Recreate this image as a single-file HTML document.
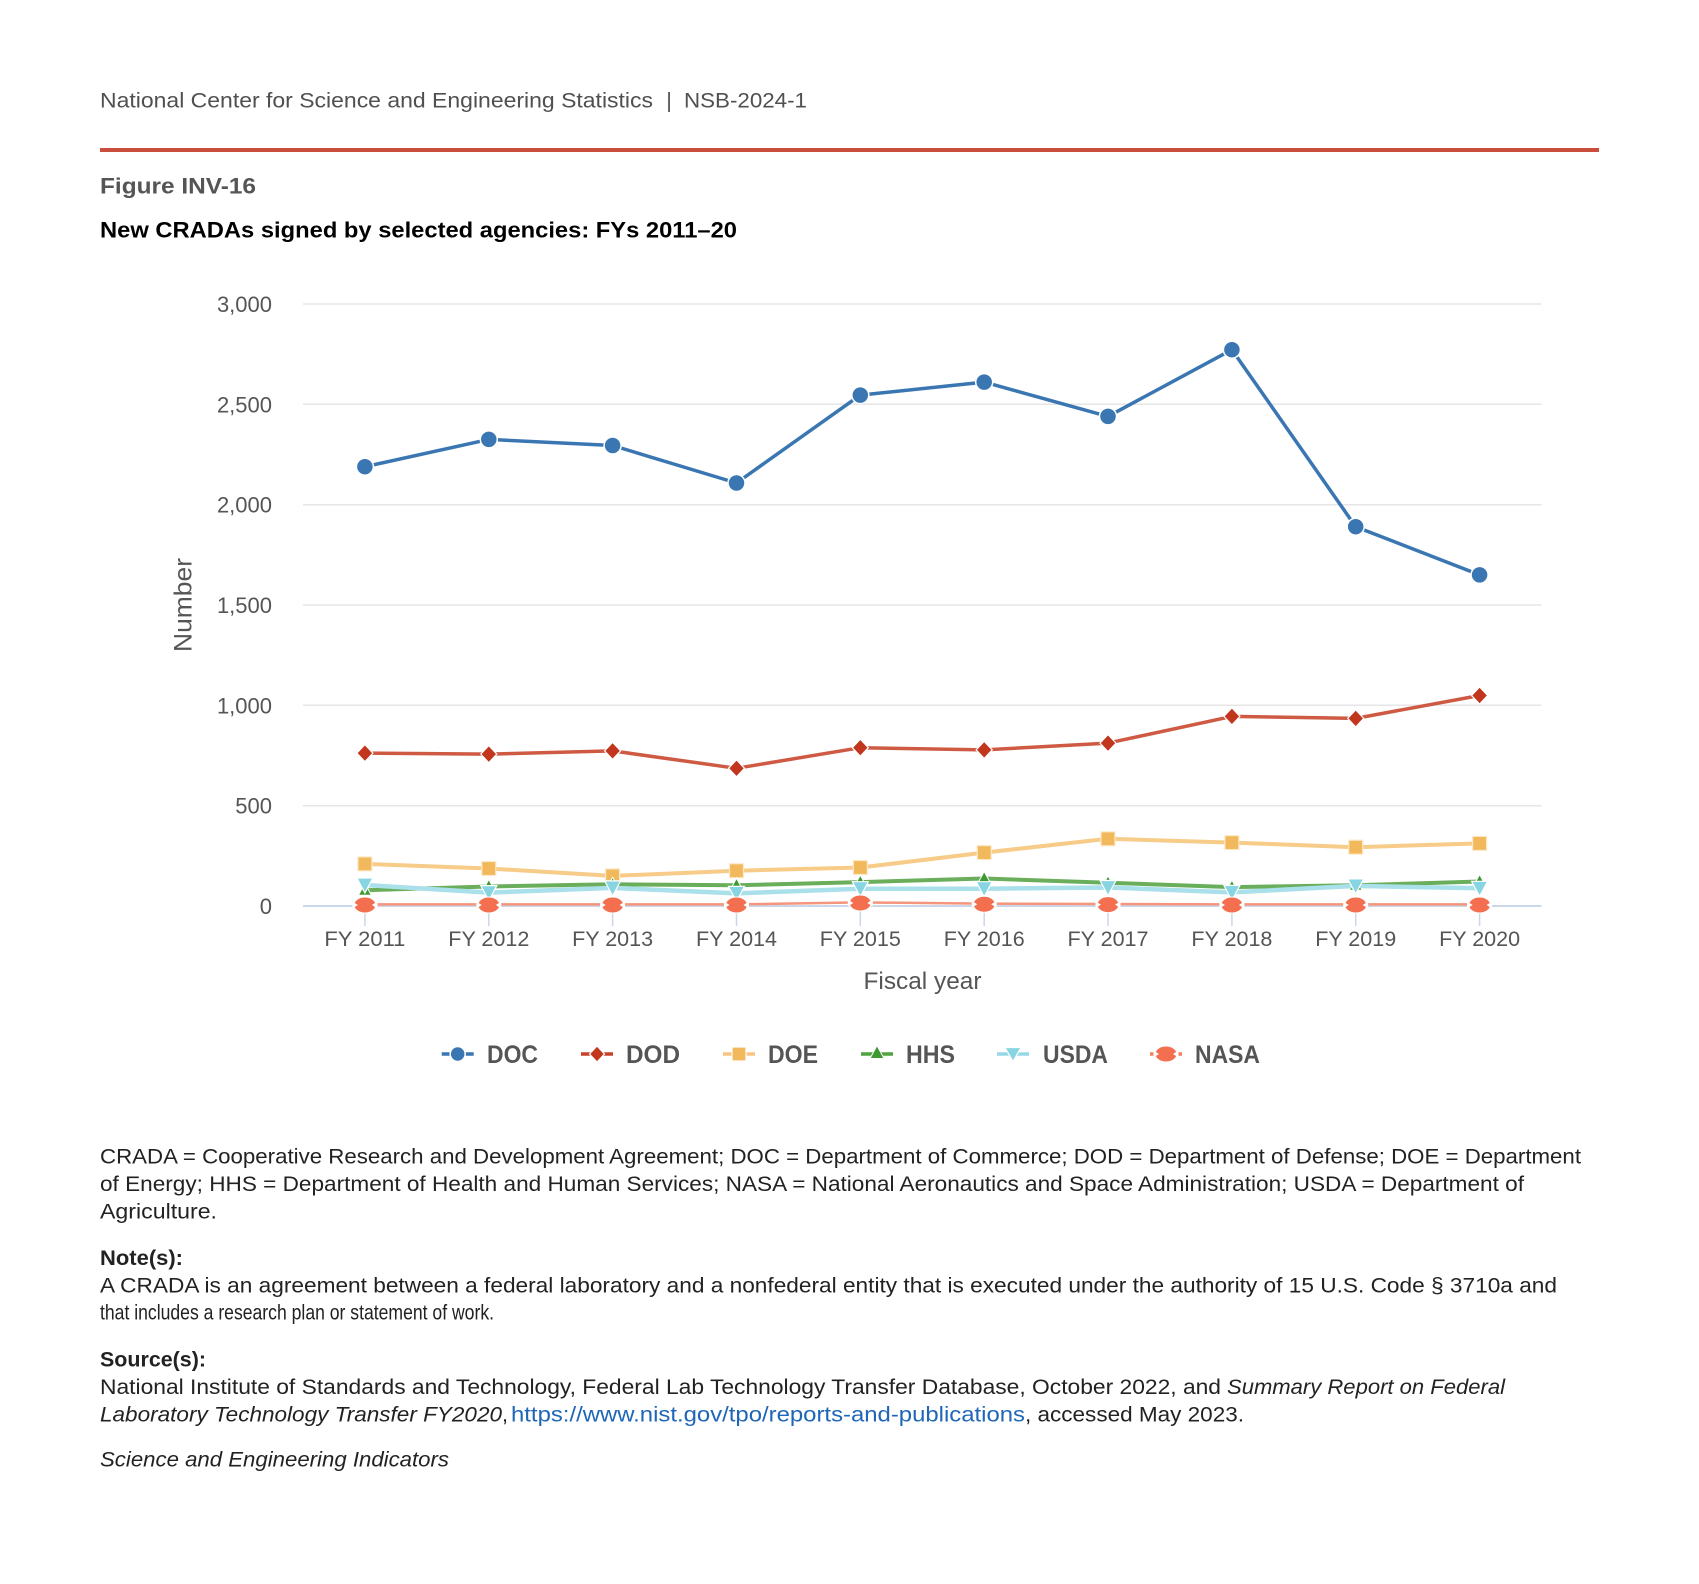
<!DOCTYPE html>
<html>
<head>
<meta charset="utf-8">
<style>
html,body{margin:0;padding:0;background:#fff;}
svg{display:block;}
text{font-family:"Liberation Sans",Arial,sans-serif;}
</style>
</head>
<body>
<svg width="1699" height="1584" viewBox="0 0 1699 1584" xmlns="http://www.w3.org/2000/svg">
<rect width="1699" height="1584" fill="#fff"/>

<!-- Header -->
<text x="100" y="107.5" font-size="21.5" fill="#505050" textLength="553" lengthAdjust="spacingAndGlyphs">National Center for Science and Engineering Statistics</text>
<text x="669" y="107.5" font-size="21.5" fill="#505050" text-anchor="middle">|</text>
<text x="684" y="107.5" font-size="21.5" fill="#505050" textLength="123" lengthAdjust="spacingAndGlyphs">NSB-2024-1</text>
<rect x="100" y="148" width="1499" height="4" fill="#c94f3c"/>
<text x="100" y="193.5" font-size="22.5" font-weight="bold" fill="#555" textLength="156" lengthAdjust="spacingAndGlyphs">Figure INV-16</text>
<text x="100" y="237.5" font-size="22.5" font-weight="bold" fill="#000" textLength="637" lengthAdjust="spacingAndGlyphs">New CRADAs signed by selected agencies: FYs 2011–20</text>

<!-- Gridlines -->
<g stroke="#e6e6e6" stroke-width="1.5">
<line x1="303" y1="304" x2="1541.5" y2="304"/>
<line x1="303" y1="404.3" x2="1541.5" y2="404.3"/>
<line x1="303" y1="504.7" x2="1541.5" y2="504.7"/>
<line x1="303" y1="605" x2="1541.5" y2="605"/>
<line x1="303" y1="705.3" x2="1541.5" y2="705.3"/>
<line x1="303" y1="805.7" x2="1541.5" y2="805.7"/>
</g>
<!-- x axis -->
<line x1="303" y1="906" x2="1541.5" y2="906" stroke="#ccd6eb" stroke-width="2"/>
<g stroke="#ccd6eb" stroke-width="1.5">
<line x1="364.9" y1="906" x2="364.9" y2="926"/>
<line x1="488.8" y1="906" x2="488.8" y2="926"/>
<line x1="612.6" y1="906" x2="612.6" y2="926"/>
<line x1="736.5" y1="906" x2="736.5" y2="926"/>
<line x1="860.3" y1="906" x2="860.3" y2="926"/>
<line x1="984.2" y1="906" x2="984.2" y2="926"/>
<line x1="1108" y1="906" x2="1108" y2="926"/>
<line x1="1231.9" y1="906" x2="1231.9" y2="926"/>
<line x1="1355.7" y1="906" x2="1355.7" y2="926"/>
<line x1="1479.6" y1="906" x2="1479.6" y2="926"/>
</g>

<!-- Y labels -->
<g font-size="22" fill="#555" text-anchor="end">
<text x="272" y="312">3,000</text>
<text x="272" y="412.3">2,500</text>
<text x="272" y="512.7">2,000</text>
<text x="272" y="613">1,500</text>
<text x="272" y="713.3">1,000</text>
<text x="272" y="813.7">500</text>
<text x="272" y="914">0</text>
</g>
<text transform="translate(191.5,605) rotate(-90)" font-size="25" fill="#555" text-anchor="middle" textLength="94" lengthAdjust="spacingAndGlyphs">Number</text>

<!-- X labels -->
<g font-size="21.5" fill="#555" text-anchor="middle">
<text x="364.9" y="946" textLength="81" lengthAdjust="spacingAndGlyphs">FY 2011</text>
<text x="488.8" y="946" textLength="81" lengthAdjust="spacingAndGlyphs">FY 2012</text>
<text x="612.6" y="946" textLength="81" lengthAdjust="spacingAndGlyphs">FY 2013</text>
<text x="736.5" y="946" textLength="81" lengthAdjust="spacingAndGlyphs">FY 2014</text>
<text x="860.3" y="946" textLength="81" lengthAdjust="spacingAndGlyphs">FY 2015</text>
<text x="984.2" y="946" textLength="81" lengthAdjust="spacingAndGlyphs">FY 2016</text>
<text x="1108" y="946" textLength="81" lengthAdjust="spacingAndGlyphs">FY 2017</text>
<text x="1231.9" y="946" textLength="81" lengthAdjust="spacingAndGlyphs">FY 2018</text>
<text x="1355.7" y="946" textLength="81" lengthAdjust="spacingAndGlyphs">FY 2019</text>
<text x="1479.6" y="946" textLength="81" lengthAdjust="spacingAndGlyphs">FY 2020</text>
</g>
<text x="922.5" y="989" font-size="24.5" fill="#555" text-anchor="middle" textLength="118" lengthAdjust="spacingAndGlyphs">Fiscal year</text>

<!-- DOC -->
<polyline fill="none" stroke="#3a76b2" stroke-width="3.5" stroke-linejoin="round" points="364.9,466.7 488.8,439.4 612.6,445.5 736.5,483 860.3,395.1 984.2,382.1 1108,416.4 1231.9,349.7 1355.7,526.7 1479.6,574.9"/>
<g fill="#3a76b2" stroke="#fff" stroke-width="1.5">
<circle cx="364.9" cy="466.7" r="8.5"/>
<circle cx="488.8" cy="439.4" r="8.5"/>
<circle cx="612.6" cy="445.5" r="8.5"/>
<circle cx="736.5" cy="483" r="8.5"/>
<circle cx="860.3" cy="395.1" r="8.5"/>
<circle cx="984.2" cy="382.1" r="8.5"/>
<circle cx="1108" cy="416.4" r="8.5"/>
<circle cx="1231.9" cy="349.7" r="8.5"/>
<circle cx="1355.7" cy="526.7" r="8.5"/>
<circle cx="1479.6" cy="574.9" r="8.5"/>
</g>

<!-- DOD -->
<polyline fill="none" stroke="#cf5a44" stroke-width="3.5" stroke-linejoin="round" points="364.9,753.1 488.8,754.1 612.6,750.9 736.5,768.3 860.3,747.7 984.2,749.9 1108,743.1 1231.9,716.4 1355.7,718.4 1479.6,695.5"/>
<g fill="#c1361c" stroke="#fff" stroke-width="1.2">
<polygon transform="translate(364.9,753.1)" points="0,-8.5 8,0 0,8.5 -8,0"/>
<polygon transform="translate(488.8,754.1)" points="0,-8.5 8,0 0,8.5 -8,0"/>
<polygon transform="translate(612.6,750.9)" points="0,-8.5 8,0 0,8.5 -8,0"/>
<polygon transform="translate(736.5,768.3)" points="0,-8.5 8,0 0,8.5 -8,0"/>
<polygon transform="translate(860.3,747.7)" points="0,-8.5 8,0 0,8.5 -8,0"/>
<polygon transform="translate(984.2,749.9)" points="0,-8.5 8,0 0,8.5 -8,0"/>
<polygon transform="translate(1108,743.1)" points="0,-8.5 8,0 0,8.5 -8,0"/>
<polygon transform="translate(1231.9,716.4)" points="0,-8.5 8,0 0,8.5 -8,0"/>
<polygon transform="translate(1355.7,718.4)" points="0,-8.5 8,0 0,8.5 -8,0"/>
<polygon transform="translate(1479.6,695.5)" points="0,-8.5 8,0 0,8.5 -8,0"/>
</g>

<!-- DOE -->
<polyline fill="none" stroke="#f7cb88" stroke-width="4" stroke-linejoin="round" points="364.9,863.9 488.8,868.5 612.6,875.9 736.5,870.7 860.3,867.5 984.2,852.6 1108,838.8 1231.9,842.6 1355.7,847.2 1479.6,843.4"/>
<g fill="#f1b95c" stroke="#fde9c8" stroke-width="1.2">
<rect x="357.9" y="856.9" width="14" height="14"/>
<rect x="481.8" y="861.5" width="14" height="14"/>
<rect x="605.6" y="868.9" width="14" height="14"/>
<rect x="729.5" y="863.7" width="14" height="14"/>
<rect x="853.3" y="860.5" width="14" height="14"/>
<rect x="977.2" y="845.6" width="14" height="14"/>
<rect x="1101" y="831.8" width="14" height="14"/>
<rect x="1224.9" y="835.6" width="14" height="14"/>
<rect x="1348.7" y="840.2" width="14" height="14"/>
<rect x="1472.6" y="836.4" width="14" height="14"/>
</g>

<!-- HHS -->
<polyline fill="none" stroke="#6aae5c" stroke-width="4" stroke-linejoin="round" points="364.9,890.3 488.8,886.5 612.6,884.3 736.5,885.3 860.3,882.1 984.2,878.5 1108,882.7 1231.9,887.1 1355.7,885.3 1479.6,881.5"/>
<g fill="#3d9a30" stroke="#fff" stroke-width="1">
<polygon transform="translate(364.9,890.3)" points="0,-7 6.5,5 -6.5,5"/>
<polygon transform="translate(488.8,886.5)" points="0,-7 6.5,5 -6.5,5"/>
<polygon transform="translate(612.6,884.3)" points="0,-7 6.5,5 -6.5,5"/>
<polygon transform="translate(736.5,885.3)" points="0,-7 6.5,5 -6.5,5"/>
<polygon transform="translate(860.3,882.1)" points="0,-7 6.5,5 -6.5,5"/>
<polygon transform="translate(984.2,878.5)" points="0,-7 6.5,5 -6.5,5"/>
<polygon transform="translate(1108,882.7)" points="0,-7 6.5,5 -6.5,5"/>
<polygon transform="translate(1231.9,887.1)" points="0,-7 6.5,5 -6.5,5"/>
<polygon transform="translate(1355.7,885.3)" points="0,-7 6.5,5 -6.5,5"/>
<polygon transform="translate(1479.6,881.5)" points="0,-7 6.5,5 -6.5,5"/>
</g>

<!-- USDA -->
<polyline fill="none" stroke="#a9e0ea" stroke-width="4.5" stroke-linejoin="round" points="364.9,885 488.8,892.6 612.6,887.9 736.5,893.4 860.3,888.7 984.2,888.7 1108,887.5 1231.9,892.4 1355.7,885.9 1479.6,888.3"/>
<g fill="#87d4e3" stroke="#fff" stroke-width="1.2">
<polygon transform="translate(364.9,885)" points="-8,-7 8,-7 0,8"/>
<polygon transform="translate(488.8,892.6)" points="-8,-7 8,-7 0,8"/>
<polygon transform="translate(612.6,887.9)" points="-8,-7 8,-7 0,8"/>
<polygon transform="translate(736.5,893.4)" points="-8,-7 8,-7 0,8"/>
<polygon transform="translate(860.3,888.7)" points="-8,-7 8,-7 0,8"/>
<polygon transform="translate(984.2,888.7)" points="-8,-7 8,-7 0,8"/>
<polygon transform="translate(1108,887.5)" points="-8,-7 8,-7 0,8"/>
<polygon transform="translate(1231.9,892.4)" points="-8,-7 8,-7 0,8"/>
<polygon transform="translate(1355.7,885.9)" points="-8,-7 8,-7 0,8"/>
<polygon transform="translate(1479.6,888.3)" points="-8,-7 8,-7 0,8"/>
</g>

<!-- NASA -->
<polyline fill="none" stroke="#f4957c" stroke-width="2.5" stroke-linejoin="round" points="364.9,904.4 488.8,904.4 612.6,904.4 736.5,904.4 860.3,902.4 984.2,903.6 1108,904 1231.9,904.4 1355.7,904.4 1479.6,904.4"/>
<defs>
<g id="nasa">
<ellipse cx="0" cy="0" rx="11" ry="8" fill="#f36f4f" stroke="#fff" stroke-width="1"/>
<polygon points="-12.5,-3.5 -7,0 -12.5,3.5" fill="#fff"/>
<polygon points="12.5,-3.5 7,0 12.5,3.5" fill="#fff"/>
</g>
</defs>
<use href="#nasa" x="364.9" y="905"/>
<use href="#nasa" x="488.8" y="905"/>
<use href="#nasa" x="612.6" y="905"/>
<use href="#nasa" x="736.5" y="905"/>
<use href="#nasa" x="860.3" y="903"/>
<use href="#nasa" x="984.2" y="904.2"/>
<use href="#nasa" x="1108" y="904.6"/>
<use href="#nasa" x="1231.9" y="905"/>
<use href="#nasa" x="1355.7" y="905"/>
<use href="#nasa" x="1479.6" y="905"/>

<!-- Legend -->
<g font-size="25" font-weight="bold" fill="#555">
<line x1="441.7" y1="1054" x2="473.7" y2="1054" stroke="#3a76b2" stroke-width="3.5"/>
<circle cx="457.7" cy="1054" r="7.5" fill="#3a76b2" stroke="#fff" stroke-width="1.5"/>
<text x="487" y="1063" textLength="51" lengthAdjust="spacingAndGlyphs">DOC</text>

<line x1="581" y1="1054" x2="613" y2="1054" stroke="#c9402a" stroke-width="3.5"/>
<polygon transform="translate(597,1054)" points="0,-8 7.5,0 0,8 -7.5,0" fill="#c1361c" stroke="#fff" stroke-width="1.2"/>
<text x="626" y="1063" textLength="54" lengthAdjust="spacingAndGlyphs">DOD</text>

<line x1="723" y1="1054" x2="755" y2="1054" stroke="#f7c57f" stroke-width="3.5"/>
<rect x="732" y="1047" width="14" height="14" fill="#f1b95c" stroke="#fff" stroke-width="1.2"/>
<text x="768" y="1063" textLength="50" lengthAdjust="spacingAndGlyphs">DOE</text>

<line x1="861" y1="1054" x2="893" y2="1054" stroke="#4fa340" stroke-width="3.5"/>
<polygon transform="translate(877,1053)" points="0,-7.5 7,5.5 -7,5.5" fill="#3d9a30" stroke="#fff" stroke-width="1"/>
<text x="906" y="1063" textLength="49" lengthAdjust="spacingAndGlyphs">HHS</text>

<line x1="997" y1="1054" x2="1029" y2="1054" stroke="#97d8e6" stroke-width="3.5"/>
<polygon transform="translate(1013,1054)" points="-8,-6.5 8,-6.5 0,7.5" fill="#87d4e3" stroke="#fff" stroke-width="1.2"/>
<text x="1043" y="1063" textLength="65" lengthAdjust="spacingAndGlyphs">USDA</text>

<line x1="1150" y1="1054" x2="1182" y2="1054" stroke="#f47e60" stroke-width="3.5"/>
<use href="#nasa" x="1166" y="1054"/>
<text x="1195" y="1063" textLength="65" lengthAdjust="spacingAndGlyphs">NASA</text>
</g>

<!-- Footer -->
<g font-size="21.5" fill="#222">
<text x="100" y="1163.3" textLength="1481" lengthAdjust="spacingAndGlyphs">CRADA = Cooperative Research and Development Agreement; DOC = Department of Commerce; DOD = Department of Defense; DOE = Department</text>
<text x="100" y="1191" textLength="1424" lengthAdjust="spacingAndGlyphs">of Energy; HHS = Department of Health and Human Services; NASA = National Aeronautics and Space Administration; USDA = Department of</text>
<text x="100" y="1218.3" textLength="117" lengthAdjust="spacingAndGlyphs">Agriculture.</text>

<text x="100" y="1265" font-weight="bold" textLength="83" lengthAdjust="spacingAndGlyphs">Note(s):</text>
<text x="100" y="1292.3" textLength="1457" lengthAdjust="spacingAndGlyphs">A CRADA is an agreement between a federal laboratory and a nonfederal entity that is executed under the authority of 15 U.S. Code § 3710a and</text>
<text x="100" y="1319.3" textLength="394" lengthAdjust="spacingAndGlyphs">that includes a research plan or statement of work.</text>

<text x="100" y="1366.7" font-weight="bold" textLength="106" lengthAdjust="spacingAndGlyphs">Source(s):</text>
<text x="100" y="1394" textLength="1121" lengthAdjust="spacingAndGlyphs">National Institute of Standards and Technology, Federal Lab Technology Transfer Database, October 2022, and</text>
<text x="1227" y="1394" font-style="italic" textLength="278" lengthAdjust="spacingAndGlyphs">Summary Report on Federal</text>
<text x="100" y="1421.7" font-style="italic" textLength="402" lengthAdjust="spacingAndGlyphs">Laboratory Technology Transfer FY2020</text>
<text x="502" y="1421.7">,</text>
<text x="511" y="1421.7" fill="#1f66b8" textLength="514" lengthAdjust="spacingAndGlyphs">https://www.nist.gov/tpo/reports-and-publications</text>
<text x="1025" y="1421.7" textLength="219" lengthAdjust="spacingAndGlyphs">, accessed May 2023.</text>

<text x="100" y="1466.7" font-style="italic" textLength="349" lengthAdjust="spacingAndGlyphs">Science and Engineering Indicators</text>
</g>
</svg>
</body>
</html>
